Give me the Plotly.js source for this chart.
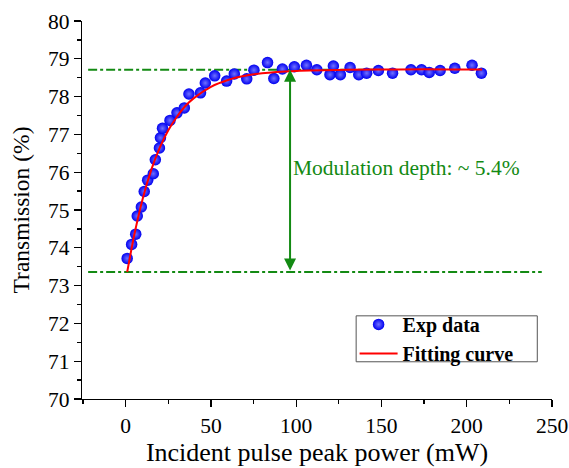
<!DOCTYPE html>
<html>
<head>
<meta charset="utf-8">
<script src="https://cdn.plot.ly/plotly-3.0.1.min.js"></script>
<style>html,body{margin:0;padding:0;background:#fff;}#chart{width:569px;height:468px;}</style>
</head>
<body>
<div id="chart"></div>
<script>
const expPower = [0.9, 3.5, 5.9, 6.8, 9.2, 10.9, 12.9, 16.2, 17.4, 19.8, 20.4, 21.6, 26.0, 30.1, 34.4, 37.1, 43.9, 46.7, 52.2, 59.2, 63.7, 71.0, 75.2, 83.2, 86.9, 91.9, 98.9, 106.0, 112.1, 119.8, 121.8, 125.9, 131.6, 136.7, 141.3, 148.2, 156.5, 167.3, 173.5, 178.0, 184.4, 193.0, 203.1, 208.6];
const expTrans = [73.72, 74.09, 74.36, 74.84, 75.08, 75.49, 75.79, 75.96, 76.33, 76.64, 76.91, 77.16, 77.37, 77.57, 77.70, 78.07, 78.10, 78.36, 78.55, 78.41, 78.60, 78.47, 78.70, 78.90, 78.48, 78.73, 78.79, 78.83, 78.71, 78.58, 78.81, 78.58, 78.77, 78.58, 78.62, 78.69, 78.62, 78.71, 78.71, 78.64, 78.69, 78.75, 78.83, 78.62];
// Fitting curve
const fitPower = [0.9, 5, 10, 15, 20, 25, 30, 35, 40, 50, 60, 70, 80, 100, 130, 160, 190, 209];
const fitTrans = [73.36, 74.33, 75.30, 76.06, 76.65, 77.11, 77.46, 77.75, 77.96, 78.26, 78.44, 78.55, 78.62, 78.68, 78.71, 78.72, 78.72, 78.72];
// Levels and labels
const upperLevel = 78.71;
const lowerLevel = 73.36;
const arrowPower = 96.4;
const depthLabel = 'Modulation depth: ~ 5.4%';
const xTicks = [0, 50, 100, 150, 200, 250];
const yTicks = [70, 71, 72, 73, 74, 75, 76, 77, 78, 79, 80];

const serif = "'Liberation Serif', 'Times New Roman', serif";
const green = '#138a13';

const traces = [
  {
    x: expPower, y: expTrans, type: 'scatter', mode: 'markers', name: 'Exp data',
    marker: {color: '#0000f0', size: 11.5, line: {width: 0},
             gradient: {type: 'radial', color: '#7070ff'}}
  },
  {
    x: fitPower, y: fitTrans, type: 'scatter', mode: 'lines', name: 'Fitting curve',
    line: {color: '#ff0000', width: 2, shape: 'spline', smoothing: 0.6}
  }
];

const axisCommon = {
  showline: true, linecolor: '#000', linewidth: 1.3, mirror: false,
  showgrid: false, zeroline: false,
  ticks: 'outside', ticklen: 7, tickwidth: 1.3, tickcolor: '#000',
  tickfont: {family: serif, size: 21.5, color: '#000'}
};

const layout = {
  width: 569, height: 468,
  margin: {l: 82, r: 17, t: 21, b: 69},
  paper_bgcolor: '#fff', plot_bgcolor: '#fff',
  showlegend: true,
  font: {family: serif, color: '#000'},
  xaxis: Object.assign({}, axisCommon, {
    range: [-25.6, 250], tickvals: xTicks,
    minor: {dtick: 25, tick0: 0, ticks: 'outside', ticklen: 4, tickwidth: 1.3, tickcolor: '#000', showgrid: false},
    title: {text: 'Incident pulse peak power (mW)', font: {family: serif, size: 26, color: '#000'}, standoff: 3}
  }),
  yaxis: Object.assign({}, axisCommon, {
    range: [70, 80], tickvals: yTicks,
    minor: {dtick: 0.5, tick0: 0, ticks: 'outside', ticklen: 4, tickwidth: 1.3, tickcolor: '#000', showgrid: false},
    title: {text: 'Transmission (%)', font: {family: serif, size: 23.5, color: '#000'}, standoff: 11}
  }),
  legend: {
    x: 0.58, y: 0.249, xanchor: 'left', yanchor: 'top',
    bgcolor: 'rgba(0,0,0,0)', borderwidth: 0,
    font: {family: serif, size: 20, color: '#000', weight: 'bold'},
    traceorder: 'normal', itemwidth: 38
  },
  shapes: [
    {type: 'line', xref: 'x', yref: 'y', x0: -22, x1: 148, y0: upperLevel, y1: upperLevel,
     line: {color: green, width: 2, dash: 'dashdot'}, layer: 'below'},
    {type: 'line', xref: 'x', yref: 'y', x0: -22, x1: 244, y0: lowerLevel, y1: lowerLevel,
     line: {color: green, width: 2, dash: 'dashdot'}, layer: 'below'},
    {type: 'rect', xref: 'paper', yref: 'paper', x0: 0.5833, x1: 0.9687, y0: 0.0985, y1: 0.22,
     line: {color: '#555', width: 1}, fillcolor: '#fff', layer: 'above'}
  ],
  annotations: [
    {x: arrowPower, y: upperLevel, ax: arrowPower, ay: lowerLevel, xref: 'x', yref: 'y', axref: 'x', ayref: 'y',
     text: '', showarrow: true, arrowhead: 2, arrowside: 'end+start', arrowsize: 1.2, arrowwidth: 2, arrowcolor: green},
    {x: 97, y: 76.12, xref: 'x', yref: 'y', text: depthLabel, showarrow: false,
     xanchor: 'left', yanchor: 'middle', font: {family: serif, size: 21.5, color: green}}
  ]
};

Plotly.newPlot('chart', traces, layout, {displayModeBar: false, staticPlot: true});
</script>
</body>
</html>
